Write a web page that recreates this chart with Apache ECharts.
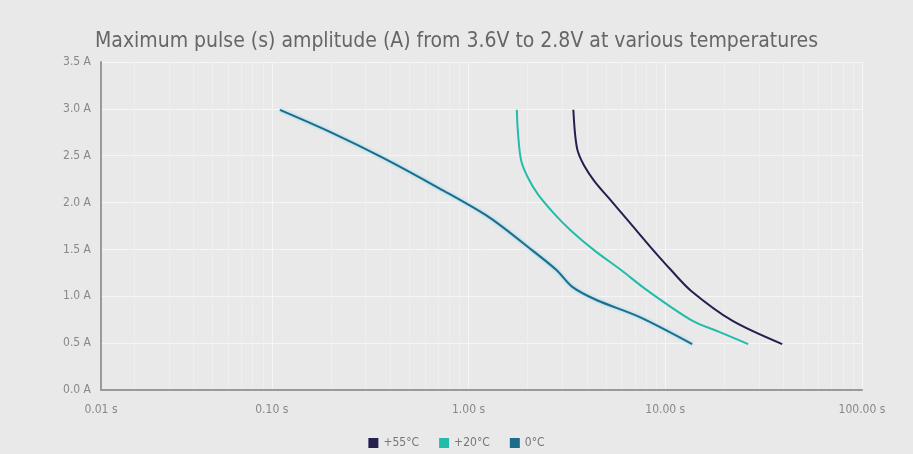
<!DOCTYPE html>
<html>
<head>
<meta charset="utf-8">
<script src="https://cdn.jsdelivr.net/npm/echarts@6/dist/echarts.min.js"></script>
<style>
html,body{margin:0;padding:0;background:#e9e9e9;}
#c{width:913px;height:454px;}
</style>
</head>
<body>
<div id="c"></div>
<script>
var seriesNames = ['+55°C', '+20°C', '0°C'];
var seriesColors = ['#23204f', '#22bcaa', '#1d6c8c'];
// time (s) and amplitude (A) per series
var t55 = [3.41, 3.48, 3.59, 3.88, 4.36, 5.30, 6.70, 8.46, 10.7, 13.5, 21.9, 39.3];
var a55 = [2.99, 2.73, 2.55, 2.39, 2.23, 2.02, 1.77, 1.52, 1.28, 1.06, 0.74, 0.49];
var t20 = [1.76, 1.78, 1.85, 2.00, 2.25, 2.73, 3.32, 4.36, 5.96, 8.13, 13.7, 18.8, 26.4];
var a20 = [2.99, 2.77, 2.45, 2.27, 2.09, 1.88, 1.70, 1.49, 1.28, 1.06, 0.74, 0.62, 0.49];
var t0 = [0.11, 0.20, 0.366, 0.713, 1.28, 2.11, 2.80, 3.37, 4.47, 7.38, 13.7];
var a0 = [2.99, 2.75, 2.48, 2.15, 1.84, 1.49, 1.28, 1.10, 0.96, 0.78, 0.49];
var xMin = 0.01355, xMax = 100;

function pairs(t, a) { return t.map(function (v, i) { return [v, a[i]]; }); }
var datasets = [pairs(t55, a55), pairs(t20, a20), pairs(t0, a0)];

var font = "'Liberation Sans Narrow', 'DejaVu Sans Condensed', sans-serif";
var chart = echarts.init(document.getElementById('c'));
chart.setOption({
  backgroundColor: '#e9e9e9',
  animation: false,
  title: {
    text: 'Maximum pulse (s) amplitude (A) from 3.6V to 2.8V at various temperatures',
    left: 'center', top: 26,
    textStyle: { fontFamily: font, fontSize: 21, fontWeight: 'normal', color: '#666' }
  },
  legend: {
    top: 432, left: 'center',
    icon: 'rect', itemWidth: 10, itemHeight: 10, itemGap: 20,
    textStyle: { fontFamily: font, fontSize: 12, color: '#777' },
    data: seriesNames
  },
  grid: { left: 101, right: 51, top: 62, bottom: 64 },
  xAxis: {
    type: 'log', logBase: 10, min: xMin, max: xMax,
    axisLine: { show: true, lineStyle: { color: '#9a9a9a', width: 2 } },
    axisTick: { show: false },
    axisLabel: {
      fontFamily: font, fontSize: 12, color: '#888', margin: 14,
      formatter: function (v) { return v.toFixed(2) + ' s'; }
    },
    splitLine: { show: true, lineStyle: { color: '#f6f6f6', width: 1 } },
    minorTick: { show: false, splitNumber: 9 },
    minorSplitLine: { show: true, lineStyle: { color: '#efefef', width: 1 } }
  },
  yAxis: {
    type: 'value', min: 0, max: 3.5, interval: 0.5,
    axisLine: { show: true, lineStyle: { color: '#9a9a9a', width: 2 } },
    axisTick: { show: false },
    axisLabel: {
      fontFamily: font, fontSize: 12, color: '#888', margin: 10,
      formatter: function (v) { return v.toFixed(1) + ' A'; }
    },
    splitLine: { show: true, lineStyle: { color: '#f6f6f6', width: 1 } }
  },
  series: datasets.map(function (d, i) {
    return {
      name: seriesNames[i], type: 'line', data: d,
      showSymbol: false, smooth: 0.3,
      itemStyle: { color: seriesColors[i] },
      lineStyle: i === 2
        ? { color: seriesColors[i], width: 2, shadowColor: 'rgba(110,210,240,0.9)', shadowBlur: 3 }
        : { color: seriesColors[i], width: 2 }
    };
  })
});
</script>
</body>
</html>
